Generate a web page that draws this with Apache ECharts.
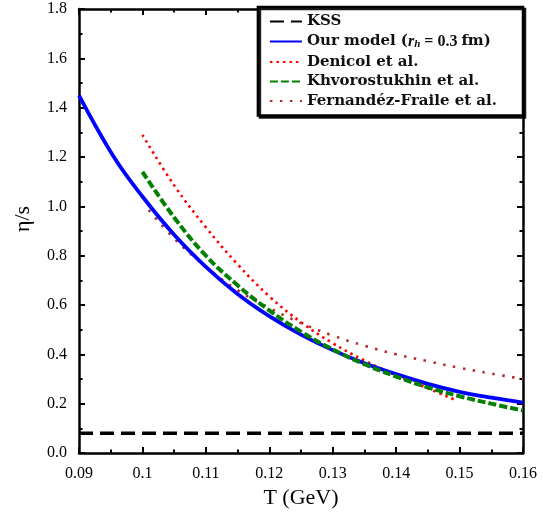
<!DOCTYPE html>
<html>
<head>
<meta charset="utf-8">
<script src="https://cdn.jsdelivr.net/npm/echarts@6/dist/echarts.min.js"></script>
<style>html,body{margin:0;padding:0;background:#fff}#c{width:543px;height:519px}</style>
</head>
<body>
<div id="c"></div>
<script>
// ---- data ----
const xTicks = [0.09, 0.10, 0.11, 0.12, 0.13, 0.14, 0.15, 0.16];
const yTicks = [0.0, 0.2, 0.4, 0.6, 0.8, 1.0, 1.2, 1.4, 1.6, 1.8];
const seriesNames = ['KSS', 'Our model (r_h = 0.3 fm)', 'Denicol et al.', 'Khvorostukhin et al.', 'Fernandéz-Fraile et al.'];

const kssT = [0.09, 0.16];
const kssV = [0.08, 0.08];

const modelT = [0.09, 0.0955, 0.10, 0.105, 0.11, 0.115, 0.12, 0.125, 0.13, 0.135, 0.14, 0.145, 0.15, 0.155, 0.16];
const modelV = [1.45, 1.20, 1.04, 0.885, 0.755, 0.645, 0.555, 0.48, 0.417, 0.364, 0.32, 0.28, 0.248, 0.224, 0.204];

const denicolT = [0.10, 0.105, 0.11, 0.115, 0.12, 0.125, 0.13, 0.135, 0.14, 0.145, 0.1496];
const denicolV = [1.29, 1.085, 0.915, 0.765, 0.635, 0.53, 0.445, 0.375, 0.315, 0.262, 0.212];

const khvoT = [0.10, 0.105, 0.11, 0.115, 0.12, 0.125, 0.13, 0.135, 0.14, 0.145, 0.15, 0.155, 0.16];
const khvoV = [1.14, 0.955, 0.80, 0.68, 0.578, 0.492, 0.42, 0.36, 0.31, 0.266, 0.23, 0.20, 0.172];

const fernT = [0.101, 0.105, 0.11, 0.115, 0.12, 0.125, 0.13, 0.135, 0.14, 0.145, 0.15, 0.155, 0.16];
const fernV = [0.985, 0.87, 0.755, 0.66, 0.588, 0.527, 0.476, 0.435, 0.40, 0.372, 0.345, 0.322, 0.30];

const pair = (t, v) => t.map((x, i) => [x, v[i]]);

// ---- chart ----
const chart = echarts.init(document.getElementById('c'), null, {renderer: 'canvas'});
const serif = '"Liberation Serif", "DejaVu Serif", serif';
const legFont = '"DejaVu Serif", "Liberation Serif", serif';
const xMin = xTicks[0], xMax = xTicks[xTicks.length - 1];
const yMin = yTicks[0], yMax = yTicks[yTicks.length - 1];

const axLine = {show: true, onZero: false, lineStyle: {color: '#000', width: 2.5}};
const axTick = {show: true, inside: true, length: 6, lineStyle: {color: '#000', width: 2}};
const minTick = {show: true, splitNumber: 2, length: 3.5, lineStyle: {color: '#000', width: 2}};

function xAxisCfg(pos, showLabel) {
  return {
    type: 'value', position: pos, min: xMin, max: xMax, interval: 0.01,
    axisLine: axLine, axisTick: axTick, minorTick: minTick, splitLine: {show: false},
    axisLabel: {show: showLabel, margin: 13, color: '#000', fontFamily: serif, fontSize: 16,
      formatter: v => String(+v.toFixed(3))},
    name: showLabel ? 'T (GeV)' : '', nameLocation: 'middle', nameGap: 31,
    nameTextStyle: {fontFamily: serif, fontSize: 22, color: '#000'}
  };
}
function yAxisCfg(pos, showLabel) {
  return {
    type: 'value', position: pos, min: yMin, max: yMax, interval: 0.2,
    axisLine: axLine, axisTick: axTick, minorTick: minTick, splitLine: {show: false},
    axisLabel: {show: showLabel, margin: 12, color: '#000', fontFamily: serif, fontSize: 16,
      formatter: v => v.toFixed(1)},
    name: showLabel ? 'η/s' : '', nameLocation: 'middle', nameGap: 45, nameRotate: 90,
    nameTextStyle: {fontFamily: serif, fontSize: 22, color: '#000', padding: [0, 0, 0, 24]}
  };
}

const base = {type: 'line', symbol: 'none', showSymbol: false, smooth: 0.4,
  xAxisIndex: 0, yAxisIndex: 0, z: 3};

chart.setOption({
  animation: false,
  backgroundColor: '#fff',
  grid: {left: 79, right: 20, top: 9, bottom: 66, containLabel: false, outerBoundsMode: 'none'},
  xAxis: [xAxisCfg('bottom', true), xAxisCfg('top', false)],
  yAxis: [yAxisCfg('left', true), yAxisCfg('right', false)],
  legend: {
    orient: 'vertical', top: 7, right: 20,
    data: seriesNames,
    itemWidth: 32, itemHeight: 12, itemGap: 4.5,
    padding: [7, 26, 7, 11],
    backgroundColor: '#fff', borderColor: '#000', borderWidth: 2.5, borderRadius: 0,
    shadowColor: 'rgba(0,0,0,0.9)', shadowOffsetX: 2, shadowOffsetY: 2, shadowBlur: 0,
    itemStyle: {opacity: 0},
    textStyle: {fontFamily: legFont, fontWeight: 'bold', fontSize: 15, color: '#111',
      rich: {
        b: {fontFamily: legFont, fontWeight: 'bold', fontSize: 15, color: '#111'},
        i: {fontFamily: serif, fontStyle: 'italic', fontSize: 16, color: '#111'},
        s: {fontFamily: serif, fontStyle: 'italic', fontSize: 11, color: '#111', verticalAlign: 'bottom', padding: [6, 0, 0, 0]},
        n: {fontFamily: serif, fontSize: 16, color: '#111'}
      }},
    formatter: name => name === seriesNames[1]
      ? '{b|Our model (}{i|r}{s|h}{n| = 0.3 }{b|fm)}'
      : '{b|' + name + '}'
  },
  series: [
    Object.assign({}, base, {name: seriesNames[0], smooth: false, data: pair(kssT, kssV),
      lineStyle: {color: '#000', width: 3.3, type: [14, 7]}, itemStyle: {color: '#000'}}),
    Object.assign({}, base, {name: seriesNames[1], data: pair(modelT, modelV), z: 4,
      lineStyle: {color: '#0000ff', width: 3.8, type: 'solid'}, itemStyle: {color: '#0000ff'}}),
    Object.assign({}, base, {name: seriesNames[2], data: pair(denicolT, denicolV),
      lineStyle: {color: '#ff0000', width: 2.6, type: [2.5, 4]}, itemStyle: {color: '#ff0000'}}),
    Object.assign({}, base, {name: seriesNames[3], data: pair(khvoT, khvoV), z: 5,
      lineStyle: {color: '#008000', width: 4, type: [8, 3]}, itemStyle: {color: '#008000'}}),
    Object.assign({}, base, {name: seriesNames[4], data: pair(fernT, fernV),
      lineStyle: {color: '#b02c2c', width: 2.6, type: [2.5, 7.5]}, itemStyle: {color: '#b02c2c'}})
  ]
});
</script>
</body>
</html>
